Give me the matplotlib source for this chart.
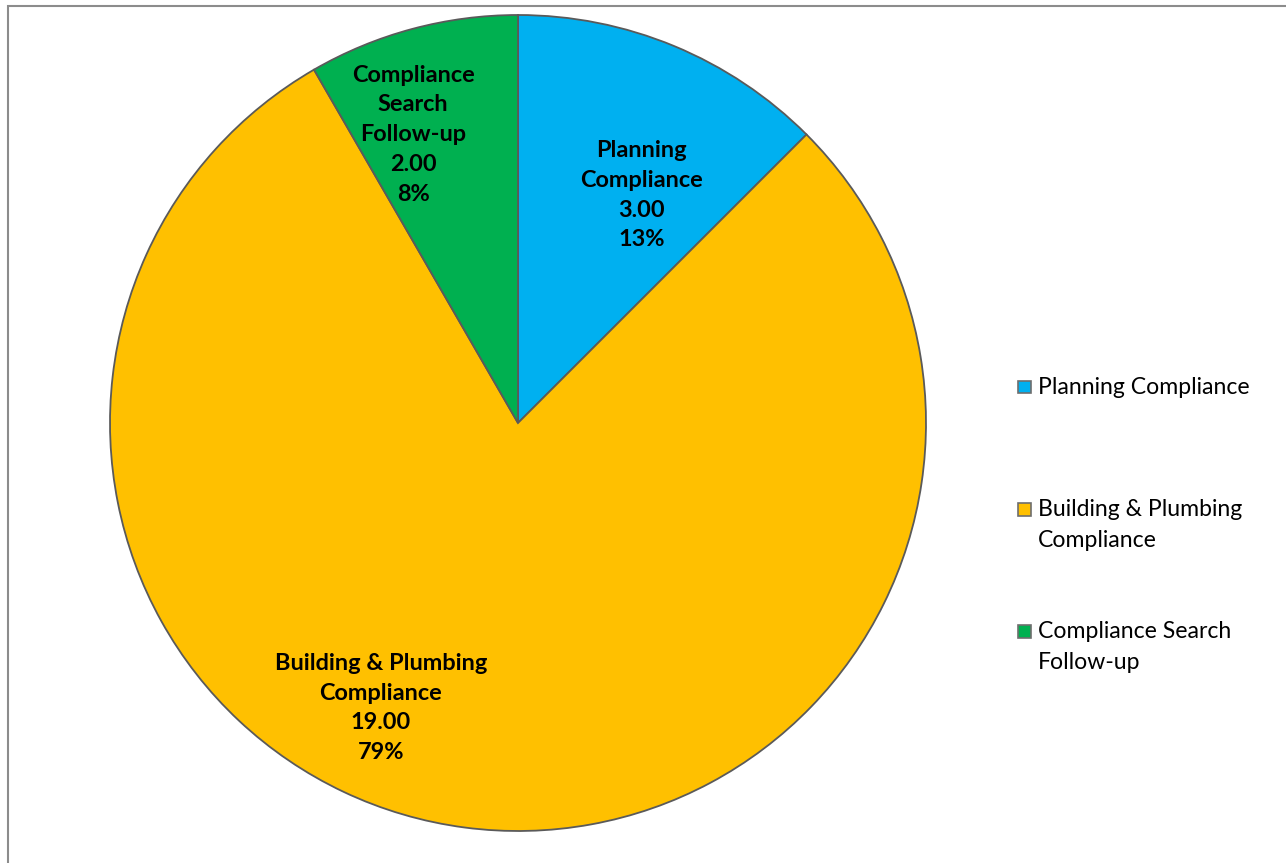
import matplotlib
matplotlib.use("Agg")
import matplotlib.pyplot as plt
import matplotlib.patches as mpatches
import numpy as np

categories = ["Planning Compliance", "Building & Plumbing Compliance", "Compliance Search Follow-up"]
values = [3.00, 19.00, 2.00]
slice_labels = ["Planning\nCompliance", "Building & Plumbing\nCompliance", "Compliance\nSearch\nFollow-up"]
legend_labels = ["Planning Compliance", "Building & Plumbing\nCompliance", "Compliance Search\nFollow-up"]
colors = ["#00B0F0", "#FFC000", "#00B050"]

W, H = 1286, 863
fig = plt.figure(figsize=(W / 100, H / 100), dpi=100)
fig.patch.set_facecolor("white")

FONT = ["Lato", "DejaVu Sans"]

# frame
fig.patches.append(mpatches.Rectangle((8 / W, -0.05), 1.2, (H - 6) / H + 0.05,
                                      transform=fig.transFigure, fill=False,
                                      edgecolor="#8c8c8c", linewidth=1.5))

cx, cy, r = 518, 423, 408
ax = fig.add_axes([(cx - r) / W, (H - cy - r) / H, 2 * r / W, 2 * r / H])

wedges, _ = ax.pie(values, colors=colors, startangle=90, counterclock=False, radius=1.0,
                   wedgeprops=dict(edgecolor="#5a5a5a", linewidth=1.3))
ax.set_xlim(-1, 1)
ax.set_ylim(-1, 1)
ax.set_aspect("equal")
ax.axis("off")

total = sum(values)
# label placement (distance as fraction of radius, angle in deg) tuned to reference layout
label_pos = [(0.635, 61.6), (0.775, 244.3), (0.752, 110.0)]
for lab, v, (d, a) in zip(slice_labels, values, label_pos):
    pct = int(v / total * 100 + 0.5)
    txt = f"{lab}\n{v:.2f}\n{pct}%"
    ax.text(d * np.cos(np.radians(a)), d * np.sin(np.radians(a)), txt,
            ha="center", va="center", fontsize=16.9, fontweight="bold",
            family=FONT, linespacing=1.52, color="black")

# legend
leg_y = [387, 525, 647]
for lab, col, y in zip(legend_labels, colors, leg_y):
    nlines = lab.count("\n") + 1
    first_line_y = y - (nlines - 1) * 15.5
    fig.patches.append(mpatches.Rectangle((1018 / W, (H - first_line_y - 6.5) / H), 13 / W, 13 / H,
                                          transform=fig.transFigure, facecolor=col,
                                          edgecolor="#6e6e6e", linewidth=1.2))
    fig.text(1038 / W, (H - y) / H, lab, ha="left", va="center", fontsize=16.6,
             family=FONT, linespacing=1.55, color="black")

fig.savefig("out.png", dpi=100, facecolor="white")
